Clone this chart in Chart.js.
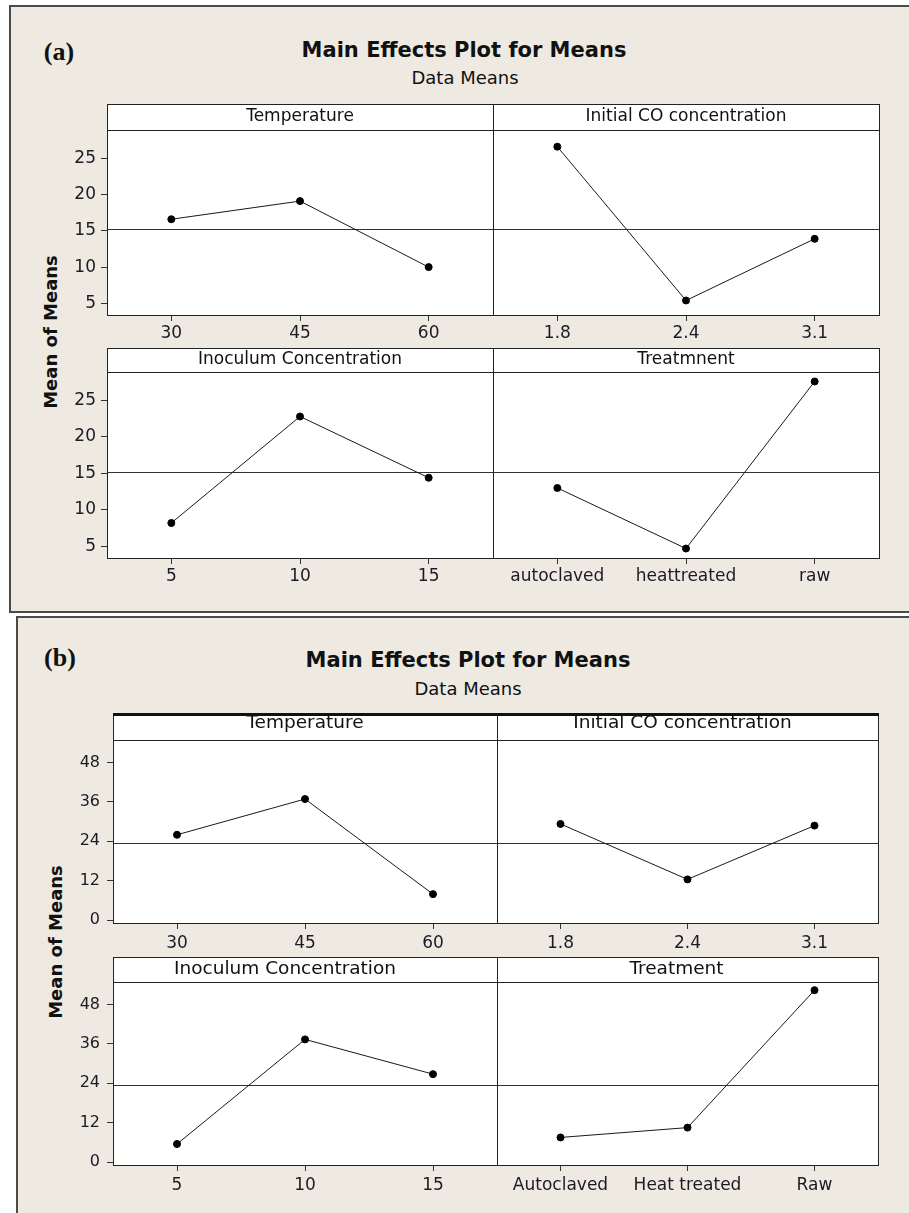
<!DOCTYPE html>
<html>
<head>
<meta charset="utf-8">
<script src="https://cdn.jsdelivr.net/npm/chart.js@4.4.1/dist/chart.umd.min.js"></script>
<style>
body { margin: 0; background: #fff; width: 909px; height: 1213px; overflow: hidden; position: relative; font-family: "DejaVu Sans", sans-serif; }
.panel { position: absolute; background: #eeeae1; border: 2px solid #4a4a4a; }
.lbl { position: absolute; white-space: nowrap; transform: translate(-50%, -50%); color: #111; }
.tag { font-family: "Liberation Serif", serif; font-weight: bold; font-size: 26px; }
.ttl { font-weight: bold; font-size: 21px; }
.sub { font-size: 18px; }
.ylab { font-weight: bold; font-size: 18px; transform: translate(-50%, -50%) rotate(-90deg); }
canvas { position: absolute; }
</style>
</head>
<body>
<div class="panel" style="left:9px;top:5px;width:920px;height:604px"></div>
<div class="panel" style="left:16px;top:616px;width:920px;height:620px"></div>

<div class="lbl tag" style="left:59px;top:52px">(a)</div>
<div class="lbl ttl" style="left:464px;top:50px">Main Effects Plot for Means</div>
<div class="lbl sub" style="left:465px;top:77px">Data Means</div>
<div class="lbl ylab" style="left:50px;top:332px">Mean of Means</div>

<div class="lbl tag" style="left:60px;top:658px">(b)</div>
<div class="lbl ttl" style="left:468px;top:660px">Main Effects Plot for Means</div>
<div class="lbl sub" style="left:468px;top:688px">Data Means</div>
<div class="lbl ylab" style="left:55px;top:942px">Mean of Means</div>

<script>
// levels
const tempLevels = ["30", "45", "60"];
const coLevels = ["1.8", "2.4", "3.1"];
const inocLevels = ["5", "10", "15"];
const treatLevelsA = ["autoclaved", "heattreated", "raw"];
const treatLevelsB = ["Autoclaved", "Heat treated", "Raw"];

// (a) means
const tempMeansA = [16.6, 19.1, 10.0];
const coMeansA = [26.6, 5.4, 13.9];
const inocMeansA = [8.2, 22.8, 14.4];
const treatMeansA = [13.0, 4.7, 27.6];
const grandMeanA = 15.2;
const yTicksA = [5, 10, 15, 20, 25];

// (b) means
const tempMeansB = [26.0, 36.9, 7.9];
const coMeansB = [29.3, 12.4, 28.8];
const inocMeansB = [5.5, 37.4, 26.8];
const treatMeansB = [7.5, 10.5, 52.4];
const grandMeanB = 23.6;
const yTicksB = [0, 12, 24, 36, 48];

const titlesA = ["Temperature", "Initial CO concentration", "Inoculum Concentration", "Treatmnent"];
const titlesB = ["Temperature", "Initial CO concentration", "Inoculum Concentration", "Treatment"];

const stripPlugin = {
  id: "strip",
  beforeDraw(chart, args, o) {
    const { ctx, chartArea: a } = chart;
    ctx.save();
    ctx.fillStyle = "#fff";
    ctx.fillRect(a.left, o.top, a.right - a.left, a.bottom - o.top);
    ctx.restore();
  },
  beforeDatasetsDraw(chart, args, o) {
    const { ctx, chartArea: a } = chart;
    const y = Math.round(chart.scales.y.getPixelForValue(o.mean)) + 0.5;
    ctx.save();
    ctx.strokeStyle = "#333";
    ctx.lineWidth = 1;
    ctx.beginPath();
    ctx.moveTo(a.left, y);
    ctx.lineTo(a.right, y);
    ctx.stroke();
    ctx.restore();
  },
  afterDraw(chart, args, o) {
    const { ctx, chartArea: a } = chart;
    ctx.save();
    ctx.strokeStyle = "#222";
    ctx.lineWidth = 1;
    ctx.strokeRect(a.left + 0.5, o.top + 0.5, a.right - a.left, a.bottom - o.top);
    ctx.beginPath();
    ctx.moveTo(a.left, a.top + 0.5);
    ctx.lineTo(a.right + 1, a.top + 0.5);
    ctx.stroke();
    if (o.topWidth > 1) {
      ctx.fillStyle = "#111";
      ctx.fillRect(a.left, o.top - 1, a.right - a.left + 1, o.topWidth);
    }
    ctx.fillStyle = "#111";
    ctx.font = o.font;
    ctx.textAlign = "center";
    ctx.textBaseline = "middle";
    ctx.fillText(o.title, (a.left + a.right) / 2 + o.dx, (o.top + a.top) / 2 + o.dy);
    ctx.restore();
  }
};

function makePlot(p) {
  const cl = p.showY ? p.left - 60 : p.left - 2;
  const ct = p.stripTop - 3;
  const cw = p.right + 3 - cl;
  const ch = p.bottom + 36 - ct;
  const cv = document.createElement("canvas");
  cv.width = cw;
  cv.height = ch;
  cv.style.left = cl + "px";
  cv.style.top = ct + "px";
  cv.style.width = cw + "px";
  cv.style.height = ch + "px";
  document.body.appendChild(cv);

  new Chart(cv, {
    type: "line",
    data: {
      labels: p.labels,
      datasets: [{
        data: p.values,
        borderColor: "#1a1a1a",
        borderWidth: 1,
        pointRadius: 3.5,
        pointBorderWidth: 1,
        pointBackgroundColor: "#000",
        pointBorderColor: "#000",
        tension: 0,
        clip: false
      }]
    },
    options: {
      responsive: false,
      devicePixelRatio: 1,
      animation: false,
      events: [],
      layout: { autoPadding: false, padding: { left: p.showY ? 0 : 2, top: p.top - ct, right: 3, bottom: 0 } },
      plugins: {
        legend: { display: false },
        tooltip: { enabled: false },
        strip: {
          top: 3, mean: p.mean, title: p.title, font: p.stripFont,
          dx: p.dx || 0, dy: p.dy || 0, topWidth: p.topWidth || 1
        }
      },
      scales: {
        x: {
          type: "category",
          offset: true,
          afterFit: s => { s.height = 36; },
          grid: { display: true, drawOnChartArea: false, drawTicks: true, tickLength: 6, color: "#333", offset: false },
          border: { display: false },
          ticks: { font: { family: "DejaVu Sans", size: 17 }, color: "#1b1b25", padding: p.xPad, maxRotation: 0, autoSkip: false }
        },
        y: {
          display: p.showY,
          min: p.yMin,
          max: p.yMax,
          afterFit: s => { s.width = p.showY ? 60 : 0; },
          afterBuildTicks: s => { s.ticks = p.yTicks.map(v => ({ value: v })); },
          grid: { display: true, drawOnChartArea: false, drawTicks: true, tickLength: 6, color: "#333" },
          border: { display: false },
          ticks: { font: { family: "DejaVu Sans", size: p.yFont }, color: "#1b1b25", padding: p.yPad }
        }
      }
    },
    plugins: [stripPlugin]
  });
}

// panel (a)
const baseA = { yMin: 3.4, yMax: 28.9, yTicks: yTicksA, mean: grandMeanA, stripFont: "17px 'DejaVu Sans'", yFont: 17, yPad: 5, xPad: 2, dy: 0 };
makePlot(Object.assign({}, baseA, { left: 107, right: 493, stripTop: 104, top: 130, bottom: 315, showY: true, labels: tempLevels, values: tempMeansA, title: titlesA[0] }));
makePlot(Object.assign({}, baseA, { left: 493, right: 879, stripTop: 104, top: 130, bottom: 315, showY: false, labels: coLevels, values: coMeansA, title: titlesA[1] }));
makePlot(Object.assign({}, baseA, { left: 107, right: 493, stripTop: 348, top: 372, bottom: 558, showY: true, labels: inocLevels, values: inocMeansA, title: titlesA[2] }));
makePlot(Object.assign({}, baseA, { left: 493, right: 879, stripTop: 348, top: 372, bottom: 558, showY: false, labels: treatLevelsA, values: treatMeansA, title: titlesA[3] }));

// panel (b)
const baseB = { yMin: -0.9, yMax: 54.9, yTicks: yTicksB, mean: grandMeanB, stripFont: "18.5px 'DejaVu Sans'", yFont: 16, yPad: 7, xPad: 4 };
makePlot(Object.assign({}, baseB, { left: 113, right: 497, stripTop: 714, top: 740, bottom: 923, showY: true, labels: tempLevels, values: tempMeansB, title: titlesB[0], dy: -4, topWidth: 3 }));
makePlot(Object.assign({}, baseB, { left: 497, right: 878, stripTop: 714, top: 740, bottom: 923, showY: false, labels: coLevels, values: coMeansB, title: titlesB[1], dy: -4, dx: -5, topWidth: 3 }));
makePlot(Object.assign({}, baseB, { left: 113, right: 497, stripTop: 957, top: 982, bottom: 1165, showY: true, labels: inocLevels, values: inocMeansB, title: titlesB[2], dx: -20 }));
makePlot(Object.assign({}, baseB, { left: 497, right: 878, stripTop: 957, top: 982, bottom: 1165, showY: false, labels: treatLevelsB, values: treatMeansB, title: titlesB[3], dx: -11 }));
</script>
</body>
</html>
